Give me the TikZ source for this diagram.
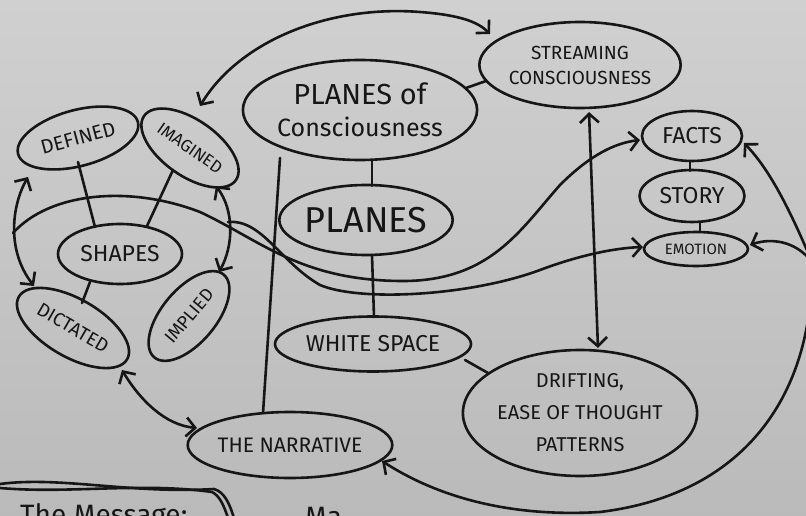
\documentclass[tikz,border=0pt]{standalone}
\usepackage{fontspec}
\setmainfont{Fira Sans}
\usetikzlibrary{shapes.geometric,arrows.meta}
\definecolor{ink}{RGB}{22,22,22}
\definecolor{paperT}{RGB}{208,208,208}
\definecolor{paperB}{RGB}{186,186,186}
\newcommand\fsz[2]{\fontsize{#1}{#2}\selectfont}
\begin{document}
\begin{tikzpicture}[x=1pt,y=-1pt,
  bub/.style={ellipse, draw=ink, line width=2.6pt, inner sep=0pt, align=center, text=ink},
  conn/.style={draw=ink, line width=2.6pt, line cap=round, line join=round},
  >={Straight Barb[length=9pt,width=19pt,line width=2.6pt]}]
\useasboundingbox (0,0) rectangle (806,516);
\shade[top color=paperT,bottom color=paperB] (0,0) rectangle (806,516);
\clip (0,0) rectangle (806,516);

% nodes
\node[bub, rotate=15, minimum width=124pt, minimum height=56pt, font=\fsz{20}{22}] (defined) at (78,138) {DEFINED};
\node[bub, rotate=-35, minimum width=112pt, minimum height=56pt, font=\fsz{17}{19}] (imagined) at (190,148) {IMAGINED};
\node[bub, minimum width=124pt, minimum height=60pt, font=\fsz{23}{25}] (shapes) at (120,254) {SHAPES};
\node[bub, rotate=-30, minimum width=125pt, minimum height=58pt, font=\fsz{19}{21}] (dictated) at (73,328) {DICTATED};
\node[bub, rotate=50, minimum width=108pt, minimum height=54pt, font=\fsz{18}{20}] (implied) at (189,316) {IMPLIED};
\node[bub, minimum width=220pt, minimum height=100pt, font=\fsz{25}{32}] (poc) at (360,110) {{\fsz{29}{32}PLANES of}\\Consciousness};
\node[bub, minimum width=195pt, minimum height=86pt, font=\fsz{19}{25}] (stream) at (580,65) {STREAMING\\CONSCIOUSNESS};
\node[bub, minimum width=100pt, minimum height=50pt, font=\fsz{23}{25}] (facts) at (692,136) {FACTS};
\node[bub, minimum width=105pt, minimum height=52pt, font=\fsz{23}{25}] (story) at (692,196) {STORY};
\node[bub, minimum width=104pt, minimum height=34pt, font=\fsz{15}{17}] (emotion) at (696,249) {EMOTION};
\node[bub, minimum width=158pt, minimum height=70pt, font=\fsz{36}{38}] (planes) at (366,220) {PLANES};
\node[bub, minimum width=196pt, minimum height=55pt, font=\fsz{23}{25}] (white) at (373,344) {WHITE SPACE};
\node[bub, minimum width=228pt, minimum height=126pt, font=\fsz{20}{32}] (drift) at (580,413) {DRIFTING,\\EASE OF THOUGHT\\PATTERNS};
\node[bub, minimum width=186pt, minimum height=66pt, font=\fsz{21}{23}] (narr) at (290,445) {THE NARRATIVE};
\node[anchor=base west, text=ink, inner sep=0pt, font=\fsz{28}{30}] (msg) at (20,524) {The Message:};
\node[anchor=base west, text=ink, inner sep=0pt, font=\fsz{28}{30}] (ma) at (305,526) {Ma};

% coordinates for free ends
\coordinate (lk) at (13,233);
\coordinate (rk) at (228,222);
\coordinate (re) at (812,262);

% simple links
\draw[conn] (78,162) -- (95,227);
\draw[conn] (173,170) -- (147,226);
\draw[conn] (90,282) -- (82,303);
\draw[conn] (466,88) -- (486,81);
\draw[conn] (372,160) -- (372,186);
\draw[conn] (372,255) -- (374,317);
\draw[conn] (280,158) -- (263,413);
\draw[conn] (465,360) -- (488,373);
\draw[conn] (690,161) -- (690,171);
\draw[conn] (700,222) -- (700,232);

% arrows
\draw[conn,<->] (28,177) .. controls (12,205) and (6,250) .. (34,286);
\draw[conn,<->] (216,186) .. controls (234,210) and (234,245) .. (219,272);
\draw[conn,<->] (122,370) .. controls (140,400) and (165,425) .. (197,428);
\draw[conn,<->] (200,106) .. controls (240,40) and (330,5) .. (420,12) .. controls (460,15) and (478,22) .. (490,34);
\draw[conn,<->] (589,112) -- (598,348);
\draw[conn,->] (lk) .. controls (50,192) and (130,185) .. (200,212) .. controls (260,240) and (300,280) .. (400,281) .. controls (490,282) and (520,230) .. (560,185) .. controls (590,155) and (615,143) .. (640,140);
\draw[conn,->] (rk) .. controls (262,219) and (280,262) .. (320,285) .. controls (360,302) and (470,296) .. (540,270) .. controls (580,255) and (615,248) .. (643,247);
\draw[conn,->] (re) .. controls (790,210) and (770,170) .. (744,143);
\draw[conn,->] (re) .. controls (795,240) and (770,238) .. (750,245);
\draw[conn,->] (re) .. controls (814,400) and (740,495) .. (600,512) .. controls (500,518) and (430,492) .. (382,461);

% sketched box at bottom left
\draw[conn] (0,484) .. controls (60,476) and (130,494) .. (214,489) .. controls (224,492) and (229,502) .. (234,518);
\draw[conn] (0,488) .. controls (70,494) and (140,482) .. (212,492) .. controls (220,496) and (224,506) .. (228,518);
\end{tikzpicture}
\end{document}
